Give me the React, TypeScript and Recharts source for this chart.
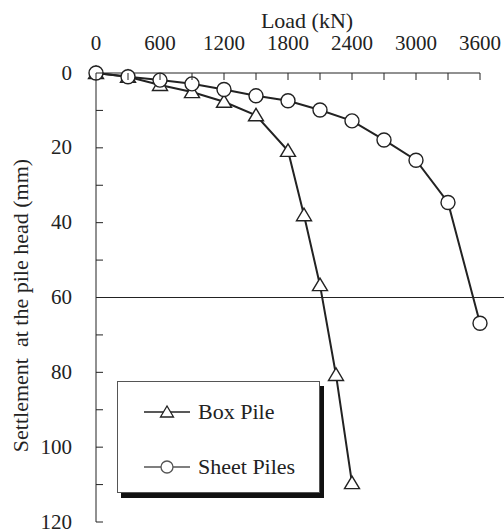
import * as React from 'react';
import { LineChart, Line, XAxis, YAxis, ReferenceLine, Legend } from 'recharts';

// load in kN, settlement in mm
const boxLoad = [0, 300, 600, 900, 1200, 1500, 1800, 1950, 2100, 2250, 2400];
const boxSettle = [0, 1.0, 3.2, 5.1, 7.7, 11.3, 20.8, 38, 56.7, 80.7, 109.6];

const sheetLoad = [0, 300, 600, 900, 1200, 1500, 1800, 2100, 2400, 2700, 3000, 3300, 3600];
const sheetSettle = [0, 1.0, 1.9, 2.9, 4.4, 6.1, 7.4, 9.9, 12.8, 17.9, 23.3, 34.6, 66.9];

const loadTicks = [0, 300, 600, 900, 1200, 1500, 1800, 2100, 2400, 2700, 3000, 3300, 3600];
const settleTicks = [0, 10, 20, 30, 40, 50, 60, 70, 80, 90, 100, 110, 120];

const seriesNames = ['Box Pile', 'Sheet Piles'];

const INK = '#222';
const FONT = "'Liberation Serif', 'Times New Roman', serif";

const boxData = boxLoad.map((load, i) => ({ load, settle: boxSettle[i] }));
const sheetData = sheetLoad.map((load, i) => ({ load, settle: sheetSettle[i] }));

const TriangleDot = (props: any) => {
  const { cx, cy } = props;
  if (cx == null || cy == null) return null;
  return (
    <polygon
      points={`${cx},${cy - 7} ${cx - 7.5},${cy + 5.5} ${cx + 7.5},${cy + 5.5}`}
      fill="#fff"
      stroke={INK}
      strokeWidth={1.4}
    />
  );
};

const CircleDot = (props: any) => {
  const { cx, cy } = props;
  if (cx == null || cy == null) return null;
  return <circle cx={cx} cy={cy} r={7} fill="#fff" stroke={INK} strokeWidth={1.4} />;
};

const TopTick = (props: any) => {
  const { x, y, payload } = props;
  const v = payload.value;
  return (
    <g>
      <line x1={x} y1={y} x2={x} y2={y + 7} stroke={INK} strokeWidth={1} />
      {v % 600 === 0 && (
        <text x={x} y={y - 23} textAnchor="middle" fontSize={21} fill={INK} style={{ fontFamily: FONT }}>
          {v}
        </text>
      )}
    </g>
  );
};

const LeftTick = (props: any) => {
  const { x, y, payload } = props;
  const v = payload.value;
  return (
    <g>
      <line x1={x} y1={y} x2={x + 7} y2={y} stroke={INK} strokeWidth={1} />
      {v % 20 === 0 && (
        <text x={x - 24} y={y + 6.5} textAnchor="end" fontSize={21} fill={INK} style={{ fontFamily: FONT }}>
          {v}
        </text>
      )}
    </g>
  );
};

const XTitle = (props: any) => {
  const { viewBox } = props;
  return (
    <text
      x={viewBox.x + viewBox.width / 2 + 19}
      y={28}
      textAnchor="middle"
      fontSize={22}
      fill={INK}
      style={{ fontFamily: FONT }}
    >
      Load (kN)
    </text>
  );
};

const YTitle = (props: any) => {
  const { viewBox } = props;
  const cy = viewBox.y + viewBox.height / 2 + 8;
  return (
    <text
      x={28}
      y={cy}
      transform={`rotate(-90, 28, ${cy})`}
      textAnchor="middle"
      fontSize={22}
      fill={INK}
      style={{ fontFamily: FONT, whiteSpace: 'pre' }}
    >
      {'Settlement  at the pile head (mm)'}
    </text>
  );
};

const LegendIcon = ({ kind }: { kind: string }) => (
  <svg width={46} height={16} style={{ display: 'block' }}>
    <line x1={0} y1={8} x2={46} y2={8} stroke={kind === 'tri' ? INK : '#555'} strokeWidth={1.3} />
    {kind === 'tri' ? (
      <polygon points="23,2 16.5,13 29.5,13" fill="#fff" stroke={INK} strokeWidth={1.3} />
    ) : (
      <circle cx={23} cy={8} r={6} fill="#fff" stroke="#555" strokeWidth={1.3} />
    )}
  </svg>
);

const LegendBox = () => (
  <div
    style={{
      width: 203,
      height: 112,
      boxSizing: 'border-box',
      border: '1px solid #555',
      background: '#fff',
      boxShadow: '4px 5px 0 #111',
      position: 'relative',
      fontFamily: FONT,
      fontSize: 22,
      color: INK,
    }}
  >
    {seriesNames.map((name, i) => (
      <div
        key={name}
        style={{
          position: 'absolute',
          left: 26,
          top: 30 + i * 55 - 13,
          height: 26,
          display: 'flex',
          alignItems: 'center',
          gap: 8,
          whiteSpace: 'nowrap',
        }}
      >
        <LegendIcon kind={i === 0 ? 'tri' : 'circ'} />
        <span>{name}</span>
      </div>
    ))}
  </div>
);

export default function App() {
  return (
    <div style={{ position: 'absolute', left: 0, top: 0, background: '#fff', fontFamily: FONT }}>
      <LineChart width={504} height={529} margin={{ top: 0, right: 24, bottom: 7, left: 0 }}>
        <XAxis
          xAxisId="load"
          type="number"
          dataKey="load"
          orientation="top"
          domain={[0, 3600]}
          ticks={loadTicks}
          height={73}
          axisLine={{ stroke: INK, strokeWidth: 1 }}
          tickLine={false}
          tickSize={0}
          tickMargin={0}
          tick={TopTick}
          interval={0}
          label={{ content: XTitle }}
        />
        <YAxis
          yAxisId="settle"
          type="number"
          dataKey="settle"
          reversed
          domain={[0, 120]}
          ticks={settleTicks}
          width={96}
          axisLine={{ stroke: INK, strokeWidth: 1 }}
          tickLine={false}
          tickSize={0}
          tickMargin={0}
          tick={LeftTick}
          interval={0}
          label={{ content: YTitle }}
        />
        <ReferenceLine
          xAxisId="load"
          yAxisId="settle"
          segment={[
            { x: 0, y: 60 },
            { x: 3825, y: 60 },
          ]}
          ifOverflow="visible"
          stroke={INK}
          strokeWidth={1}
        />
        <Legend
          layout="vertical"
          align="center"
          verticalAlign="middle"
          content={LegendBox}
          wrapperStyle={{ left: 117, top: 381, width: 203, height: 112 }}
        />
        <Line
          xAxisId="load"
          yAxisId="settle"
          name={seriesNames[0]}
          data={boxData}
          dataKey="settle"
          stroke={INK}
          strokeWidth={2}
          dot={TriangleDot}
          activeDot={false}
          isAnimationActive={false}
        />
        <Line
          xAxisId="load"
          yAxisId="settle"
          name={seriesNames[1]}
          data={sheetData}
          dataKey="settle"
          stroke={INK}
          strokeWidth={2}
          dot={CircleDot}
          activeDot={false}
          isAnimationActive={false}
        />
      </LineChart>
    </div>
  );
}
